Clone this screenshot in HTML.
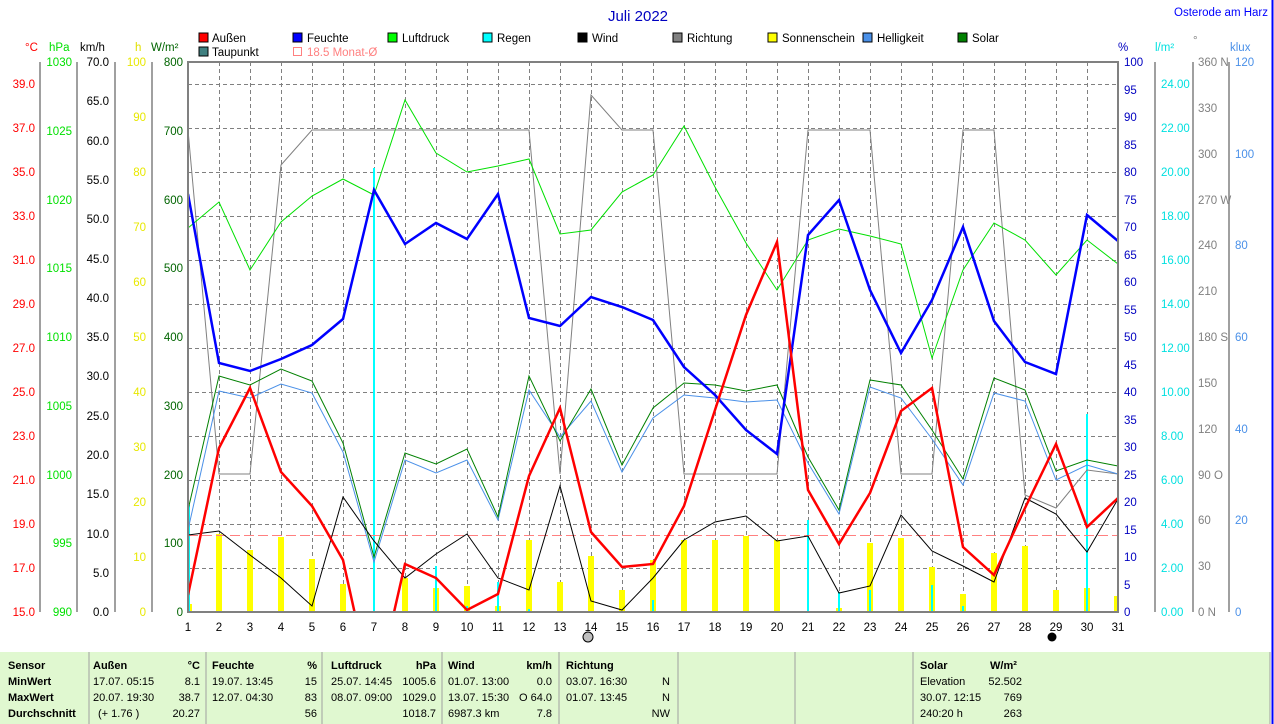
<!DOCTYPE html>
<html><head><meta charset="utf-8"><style>
html,body{margin:0;padding:0;background:#fff;}
svg{display:block;font-family:"Liberation Sans",sans-serif;}
</style></head><body>
<svg width="1274" height="724" viewBox="0 0 1274 724" xmlns="http://www.w3.org/2000/svg">
<defs><clipPath id="pc"><rect x="188" y="62" width="930" height="550"/></clipPath></defs>
<rect width="1274" height="724" fill="#fff"/>
<line x1="1272.5" y1="0" x2="1272.5" y2="724" stroke="#0000ff" stroke-width="2"/>
<text x="638" y="21" font-size="15" text-anchor="middle" fill="#0000c0">Juli 2022</text>
<text x="1268" y="16" font-size="11.5" text-anchor="end" fill="#0000ff">Osterode am Harz</text>

<!-- legend -->
<g font-size="11.5" fill="#000">
<rect x="199" y="33" width="9" height="9" fill="#ff0000" stroke="#000"/><text x="212" y="42">Außen</text>
<rect x="293" y="33" width="9" height="9" fill="#0000ff" stroke="#000"/><text x="307" y="42">Feuchte</text>
<rect x="388" y="33" width="9" height="9" fill="#00ff00" stroke="#000"/><text x="402" y="42">Luftdruck</text>
<rect x="483" y="33" width="9" height="9" fill="#00ffff" stroke="#000"/><text x="497" y="42">Regen</text>
<rect x="578" y="33" width="9" height="9" fill="#000" stroke="#000"/><text x="592" y="42">Wind</text>
<rect x="673" y="33" width="9" height="9" fill="#808080" stroke="#000"/><text x="687" y="42">Richtung</text>
<rect x="768" y="33" width="9" height="9" fill="#ffff00" stroke="#000"/><text x="782" y="42">Sonnenschein</text>
<rect x="863" y="33" width="9" height="9" fill="#4a90e8" stroke="#000"/><text x="877" y="42">Helligkeit</text>
<rect x="958" y="33" width="9" height="9" fill="#008000" stroke="#000"/><text x="972" y="42">Solar</text>
<rect x="199" y="47" width="9" height="9" fill="#408080" stroke="#000"/><text x="212" y="56">Taupunkt</text>
<rect x="293.5" y="47.5" width="8" height="8" fill="none" stroke="#ff8080"/><text x="307" y="56" fill="#ff8080">18.5 Monat-Ø</text>
</g>

<!-- unit headers -->
<g font-size="11.5">
<text x="25" y="51" fill="#ff0000">°C</text>
<text x="49" y="51" fill="#00e000">hPa</text>
<text x="80" y="51" fill="#000">km/h</text>
<text x="135" y="51" fill="#e0e000">h</text>
<text x="151" y="51" fill="#006400">W/m²</text>
<text x="1118" y="51" fill="#0000c0">%</text>
<text x="1155" y="51" fill="#00e0e0">l/m²</text>
<text x="1193" y="44" fill="#808080">°</text>
<text x="1230" y="51" fill="#4a90e8">klux</text>
</g>

<!-- grid -->
<g stroke="#808080" stroke-dasharray="4,3" stroke-width="1">
<line x1="188" y1="84.5" x2="1118" y2="84.5"/><line x1="188" y1="128.5" x2="1118" y2="128.5"/>
<line x1="188" y1="172.5" x2="1118" y2="172.5"/><line x1="188" y1="216.5" x2="1118" y2="216.5"/>
<line x1="188" y1="260.5" x2="1118" y2="260.5"/><line x1="188" y1="304.5" x2="1118" y2="304.5"/>
<line x1="188" y1="348.5" x2="1118" y2="348.5"/><line x1="188" y1="392.5" x2="1118" y2="392.5"/>
<line x1="188" y1="436.5" x2="1118" y2="436.5"/><line x1="188" y1="480.5" x2="1118" y2="480.5"/>
<line x1="188" y1="524.5" x2="1118" y2="524.5"/><line x1="188" y1="568.5" x2="1118" y2="568.5"/>
<line x1="219.5" y1="62" x2="219.5" y2="612"/><line x1="250.5" y1="62" x2="250.5" y2="612"/><line x1="281.5" y1="62" x2="281.5" y2="612"/><line x1="312.5" y1="62" x2="312.5" y2="612"/><line x1="343.5" y1="62" x2="343.5" y2="612"/><line x1="374.5" y1="62" x2="374.5" y2="612"/><line x1="405.5" y1="62" x2="405.5" y2="612"/><line x1="436.5" y1="62" x2="436.5" y2="612"/><line x1="467.5" y1="62" x2="467.5" y2="612"/><line x1="498.5" y1="62" x2="498.5" y2="612"/><line x1="529.5" y1="62" x2="529.5" y2="612"/><line x1="560.5" y1="62" x2="560.5" y2="612"/><line x1="591.5" y1="62" x2="591.5" y2="612"/><line x1="622.5" y1="62" x2="622.5" y2="612"/><line x1="653.5" y1="62" x2="653.5" y2="612"/><line x1="684.5" y1="62" x2="684.5" y2="612"/><line x1="715.5" y1="62" x2="715.5" y2="612"/><line x1="746.5" y1="62" x2="746.5" y2="612"/><line x1="777.5" y1="62" x2="777.5" y2="612"/><line x1="808.5" y1="62" x2="808.5" y2="612"/><line x1="839.5" y1="62" x2="839.5" y2="612"/><line x1="870.5" y1="62" x2="870.5" y2="612"/><line x1="901.5" y1="62" x2="901.5" y2="612"/><line x1="932.5" y1="62" x2="932.5" y2="612"/><line x1="963.5" y1="62" x2="963.5" y2="612"/><line x1="994.5" y1="62" x2="994.5" y2="612"/><line x1="1025.5" y1="62" x2="1025.5" y2="612"/><line x1="1056.5" y1="62" x2="1056.5" y2="612"/><line x1="1087.5" y1="62" x2="1087.5" y2="612"/>
</g>

<g clip-path="url(#pc)">
<!-- sunshine bars -->
<g stroke="#ffff00" stroke-width="6">
<line x1="189" y1="604" x2="189" y2="612"/><line x1="219" y1="534" x2="219" y2="612"/><line x1="250" y1="550" x2="250" y2="612"/><line x1="281" y1="537" x2="281" y2="612"/><line x1="312" y1="559" x2="312" y2="612"/><line x1="343" y1="584" x2="343" y2="612"/><line x1="405" y1="578" x2="405" y2="612"/><line x1="436" y1="588" x2="436" y2="612"/><line x1="467" y1="586" x2="467" y2="612"/><line x1="498" y1="606" x2="498" y2="612"/><line x1="529" y1="540" x2="529" y2="612"/><line x1="560" y1="582" x2="560" y2="612"/><line x1="591" y1="556" x2="591" y2="612"/><line x1="622" y1="590" x2="622" y2="612"/><line x1="653" y1="560" x2="653" y2="612"/><line x1="684" y1="540" x2="684" y2="612"/><line x1="715" y1="540" x2="715" y2="612"/><line x1="746" y1="536" x2="746" y2="612"/><line x1="777" y1="540" x2="777" y2="612"/><line x1="839" y1="608" x2="839" y2="612"/><line x1="870" y1="543" x2="870" y2="612"/><line x1="901" y1="538" x2="901" y2="612"/><line x1="932" y1="567" x2="932" y2="612"/><line x1="963" y1="594" x2="963" y2="612"/><line x1="994" y1="553" x2="994" y2="612"/><line x1="1025" y1="546" x2="1025" y2="612"/><line x1="1056" y1="590" x2="1056" y2="612"/><line x1="1087" y1="588" x2="1087" y2="612"/><line x1="1117" y1="596" x2="1117" y2="612"/>
</g>
<!-- rain bars -->
<g stroke="#00ffff" stroke-width="2">
<line x1="189" y1="505" x2="189" y2="612"/><line x1="374" y1="168" x2="374" y2="612"/><line x1="436" y1="566" x2="436" y2="612"/><line x1="467" y1="606" x2="467" y2="612"/><line x1="498" y1="582" x2="498" y2="612"/><line x1="529" y1="609" x2="529" y2="612"/><line x1="808" y1="520" x2="808" y2="612"/><line x1="839" y1="592" x2="839" y2="612"/><line x1="870" y1="590" x2="870" y2="612"/><line x1="932" y1="585" x2="932" y2="612"/><line x1="963" y1="606" x2="963" y2="612"/><line x1="1087" y1="414" x2="1087" y2="612"/><line x1="653" y1="600" x2="653" y2="612"/>
</g>
<!-- month avg -->
<line x1="188" y1="535.5" x2="1118" y2="535.5" stroke="#ff8080" stroke-dasharray="10,4"/>
<!-- Richtung -->
<polyline fill="none" stroke="#808080" stroke-width="1" points="188,130 219,474 250,474 281,165 312,130 343,130 374,130 405,130 436,130 467,130 498,130 529,130 560,474 591,95 622,130 653,130 684,474 715,474 746,474 777,474 808,130 839,130 870,130 901,474 932,474 963,130 994,130 1025,495 1056,508 1087,470 1118,474"/>
<!-- Luftdruck -->
<polyline fill="none" stroke="#00e000" stroke-width="1" points="188,228 219,202 250,270 281,222 312,196 343,179 374,195 405,100 436,153 467,172 498,166 529,159 560,234 591,230 622,192 653,175 684,126 715,187 746,243 777,290 808,240 839,229 870,236 901,244 932,358 963,270 994,223 1025,240 1056,275 1087,240 1118,264"/>
<!-- Helligkeit -->
<polyline fill="none" stroke="#4a90e8" stroke-width="1" points="188,530 219,391 250,398 281,384 312,393 343,452 374,562 405,460 436,473 467,460 498,520 529,390 560,437 591,401 622,472 653,418 684,395 715,398 746,402 777,400 808,463 839,514 870,387 901,398 932,439 963,485 994,393 1025,401 1056,480 1087,465 1118,474"/>
<!-- Solar -->
<polyline fill="none" stroke="#008000" stroke-width="1" points="188,510 219,376 250,385 281,369 312,381 343,443 374,557 405,453 436,464 467,449 498,517 529,376 560,441 591,389 622,465 653,408 684,383 715,385 746,391 777,385 808,457 839,510 870,380 901,385 932,430 963,479 994,378 1025,390 1056,471 1087,460 1118,466"/>
<!-- Wind -->
<polyline fill="none" stroke="#000" stroke-width="1" points="188,535 219,531 250,555 281,578 312,606 343,497 374,541 405,578 436,554 467,534 498,578 529,590 560,486 591,601 622,610 653,578 684,540 715,522 746,516 777,541 808,536 839,593 870,586 901,515 932,551 963,566 994,582 1025,498 1056,514 1087,552 1118,499"/>
<!-- Feuchte -->
<polyline fill="none" stroke="#0000ff" stroke-width="2.5" points="188,194 219,363 250,371 281,359 312,345 343,319 374,190 405,244 436,223 467,239 498,194 529,318 560,326 591,297 622,307 653,320 684,367 715,395 746,430 777,454 808,235 839,200 870,290 901,353 932,300 963,227 994,321 1025,362 1056,374 1087,215 1118,241"/>
<!-- Außen -->
<polyline fill="none" stroke="#ff0000" stroke-width="2.5" points="188,595 219,448 250,388 281,472 312,506 343,560 374,700 405,564 436,578 467,610 498,594 529,476 560,408 591,532 622,567 653,564 684,506 715,410 746,315 777,242 808,490 839,544 870,493 901,411 932,388 963,547 994,575 1025,508 1056,444 1087,527 1118,498"/>
</g>

<!-- frame -->
<rect x="188" y="62" width="930" height="550" fill="none" stroke="#808080" stroke-width="2"/>

<!-- left axes -->
<g stroke="#808080" stroke-width="1.5">
<line x1="40" y1="62" x2="40" y2="612"/><line x1="77" y1="62" x2="77" y2="612"/><line x1="115" y1="62" x2="115" y2="612"/><line x1="152" y1="62" x2="152" y2="612"/>
<line x1="1155" y1="62" x2="1155" y2="612"/><line x1="1193" y1="62" x2="1193" y2="612"/><line x1="1229" y1="62" x2="1229" y2="612"/>
</g>
<g font-size="11.5" text-anchor="end" fill="#ff0000">
<text x="35" y="88">39.0</text><text x="35" y="132">37.0</text><text x="35" y="176">35.0</text><text x="35" y="220">33.0</text><text x="35" y="264">31.0</text><text x="35" y="308">29.0</text><text x="35" y="352">27.0</text><text x="35" y="396">25.0</text><text x="35" y="440">23.0</text><text x="35" y="484">21.0</text><text x="35" y="528">19.0</text><text x="35" y="572">17.0</text><text x="35" y="616">15.0</text>
</g>
<g font-size="11.5" text-anchor="end" fill="#00e000">
<text x="72" y="66">1030</text><text x="72" y="135">1025</text><text x="72" y="204">1020</text><text x="72" y="272">1015</text><text x="72" y="341">1010</text><text x="72" y="410">1005</text><text x="72" y="479">1000</text><text x="72" y="547">995</text><text x="72" y="616">990</text>
</g>
<g font-size="11.5" text-anchor="end" fill="#000">
<text x="109" y="66">70.0</text><text x="109" y="105">65.0</text><text x="109" y="145">60.0</text><text x="109" y="184">55.0</text><text x="109" y="223">50.0</text><text x="109" y="263">45.0</text><text x="109" y="302">40.0</text><text x="109" y="341">35.0</text><text x="109" y="380">30.0</text><text x="109" y="420">25.0</text><text x="109" y="459">20.0</text><text x="109" y="498">15.0</text><text x="109" y="538">10.0</text><text x="109" y="577">5.0</text><text x="109" y="616">0.0</text>
</g>
<g font-size="11.5" text-anchor="end" fill="#e8e800">
<text x="146" y="66">100</text><text x="146" y="121">90</text><text x="146" y="176">80</text><text x="146" y="231">70</text><text x="146" y="286">60</text><text x="146" y="341">50</text><text x="146" y="396">40</text><text x="146" y="451">30</text><text x="146" y="506">20</text><text x="146" y="561">10</text><text x="146" y="616">0</text>
</g>
<g font-size="11.5" text-anchor="end" fill="#006400">
<text x="183" y="66">800</text><text x="183" y="135">700</text><text x="183" y="204">600</text><text x="183" y="272">500</text><text x="183" y="341">400</text><text x="183" y="410">300</text><text x="183" y="479">200</text><text x="183" y="547">100</text><text x="183" y="616">0</text>
</g>
<g font-size="11.5" fill="#0000c0">
<text x="1124" y="66">100</text><text x="1124" y="94">95</text><text x="1124" y="121">90</text><text x="1124" y="149">85</text><text x="1124" y="176">80</text><text x="1124" y="204">75</text><text x="1124" y="231">70</text><text x="1124" y="259">65</text><text x="1124" y="286">60</text><text x="1124" y="314">55</text><text x="1124" y="341">50</text><text x="1124" y="369">45</text><text x="1124" y="396">40</text><text x="1124" y="424">35</text><text x="1124" y="451">30</text><text x="1124" y="479">25</text><text x="1124" y="506">20</text><text x="1124" y="534">15</text><text x="1124" y="561">10</text><text x="1124" y="589">5</text><text x="1124" y="616">0</text>
</g>
<g font-size="11.5" fill="#00e0e0">
<text x="1161" y="88">24.00</text><text x="1161" y="132">22.00</text><text x="1161" y="176">20.00</text><text x="1161" y="220">18.00</text><text x="1161" y="264">16.00</text><text x="1161" y="308">14.00</text><text x="1161" y="352">12.00</text><text x="1161" y="396">10.00</text><text x="1161" y="440">8.00</text><text x="1161" y="484">6.00</text><text x="1161" y="528">4.00</text><text x="1161" y="572">2.00</text><text x="1161" y="616">0.00</text>
</g>
<g font-size="11.5" fill="#808080">
<text x="1198" y="66">360 N</text><text x="1198" y="112">330</text><text x="1198" y="158">300</text><text x="1198" y="204">270 W</text><text x="1198" y="249">240</text><text x="1198" y="295">210</text><text x="1198" y="341">180 S</text><text x="1198" y="387">150</text><text x="1198" y="433">120</text><text x="1198" y="479">90  O</text><text x="1198" y="524">60</text><text x="1198" y="570">30</text><text x="1198" y="616">0  N</text>
</g>
<g font-size="11.5" fill="#4a90e8">
<text x="1235" y="66">120</text><text x="1235" y="158">100</text><text x="1235" y="249">80</text><text x="1235" y="341">60</text><text x="1235" y="433">40</text><text x="1235" y="524">20</text><text x="1235" y="616">0</text>
</g>

<!-- day labels -->
<g font-size="11.5" text-anchor="middle" fill="#000">
<text x="188" y="631">1</text><text x="219" y="631">2</text><text x="250" y="631">3</text><text x="281" y="631">4</text><text x="312" y="631">5</text><text x="343" y="631">6</text><text x="374" y="631">7</text><text x="405" y="631">8</text><text x="436" y="631">9</text><text x="467" y="631">10</text><text x="498" y="631">11</text><text x="529" y="631">12</text><text x="560" y="631">13</text><text x="591" y="631">14</text><text x="622" y="631">15</text><text x="653" y="631">16</text><text x="684" y="631">17</text><text x="715" y="631">18</text><text x="746" y="631">19</text><text x="777" y="631">20</text><text x="808" y="631">21</text><text x="839" y="631">22</text><text x="870" y="631">23</text><text x="901" y="631">24</text><text x="932" y="631">25</text><text x="963" y="631">26</text><text x="994" y="631">27</text><text x="1025" y="631">28</text><text x="1056" y="631">29</text><text x="1087" y="631">30</text><text x="1118" y="631">31</text>
</g>
<circle cx="588" cy="637" r="5" fill="#c0c0c0" stroke="#000"/>
<circle cx="1052" cy="637" r="4.5" fill="#000"/>

<!-- table -->
<rect x="0" y="652" width="1270" height="72" fill="#e0f8d0"/>
<g stroke="#a0a0a0"><line x1="89" y1="652" x2="89" y2="724"/><line x1="206" y1="652" x2="206" y2="724"/><line x1="322" y1="652" x2="322" y2="724"/><line x1="442" y1="652" x2="442" y2="724"/><line x1="559" y1="652" x2="559" y2="724"/><line x1="678" y1="652" x2="678" y2="724"/><line x1="795" y1="652" x2="795" y2="724"/><line x1="913" y1="652" x2="913" y2="724"/><line x1="1270" y1="652" x2="1270" y2="724"/></g>
<g font-size="11" fill="#000">
<g font-weight="bold"><text x="8" y="669">Sensor</text><text x="8" y="685">MinWert</text><text x="8" y="701">MaxWert</text><text x="8" y="717">Durchschnitt</text>
<text x="93" y="669">Außen</text><text x="212" y="669">Feuchte</text><text x="331" y="669">Luftdruck</text><text x="448" y="669">Wind</text><text x="566" y="669">Richtung</text><text x="920" y="669">Solar</text><text x="990" y="669">W/m²</text>
<g text-anchor="end"><text x="200" y="669">°C</text><text x="317" y="669">%</text><text x="436" y="669">hPa</text><text x="552" y="669">km/h</text></g></g>
<text x="93" y="685">17.07. 05:15</text><text x="93" y="701">20.07. 19:30</text><text x="98" y="717">(+ 1.76 )</text>
<text x="212" y="685">19.07. 13:45</text><text x="212" y="701">12.07. 04:30</text>
<text x="331" y="685">25.07. 14:45</text><text x="331" y="701">08.07. 09:00</text>
<text x="448" y="685">01.07. 13:00</text><text x="448" y="701">13.07. 15:30</text><text x="448" y="717">6987.3 km</text>
<text x="566" y="685">03.07. 16:30</text><text x="566" y="701">01.07. 13:45</text>
<text x="920" y="685">Elevation</text><text x="920" y="701">30.07.  12:15</text><text x="920" y="717">240:20 h</text>
<g text-anchor="end">
<text x="200" y="685">8.1</text><text x="200" y="701">38.7</text><text x="200" y="717">20.27</text>
<text x="317" y="685">15</text><text x="317" y="701">83</text><text x="317" y="717">56</text>
<text x="436" y="685">1005.6</text><text x="436" y="701">1029.0</text><text x="436" y="717">1018.7</text>
<text x="552" y="685">0.0</text><text x="552" y="701">O 64.0</text><text x="552" y="717">7.8</text>
<text x="670" y="685">N</text><text x="670" y="701">N</text><text x="670" y="717">NW</text>
<text x="1022" y="685">52.502</text><text x="1022" y="701">769</text><text x="1022" y="717">263</text>
</g></g>
</svg>
</body></html>
